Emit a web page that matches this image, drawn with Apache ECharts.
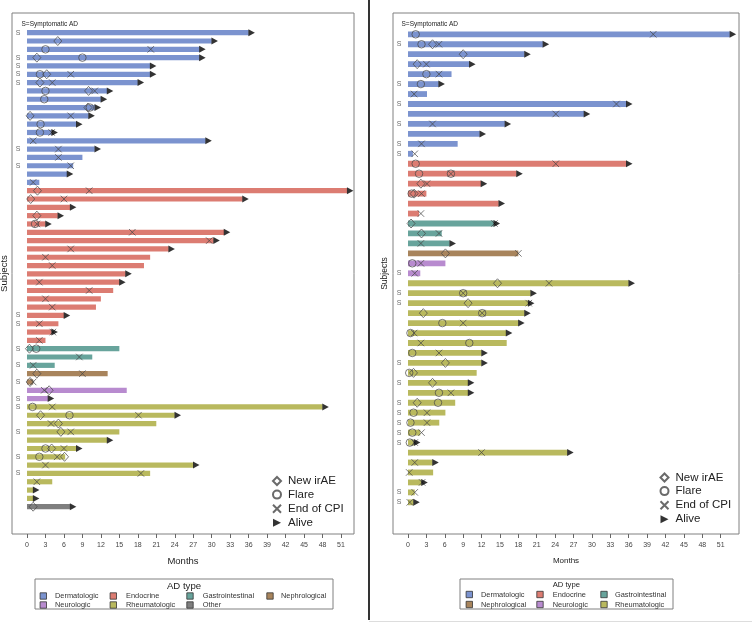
<!DOCTYPE html>
<html><head><meta charset="utf-8">
<script src="https://cdn.jsdelivr.net/npm/echarts@6/dist/echarts.min.js"></script>
<style>html,body{margin:0;padding:0;background:#fff}#c{width:752px;height:623px}</style>
</head><body><div id="c"></div><script>
const FONT = '"Liberation Sans", Arial, Helvetica, sans-serif';

// ---------- categories ----------
const adCodes = ['D','E','G','N','U','R','O'];
const adTypes = ['Dermatologic','Endocrine','Gastrointestinal','Nephrological','Neurologic','Rheumatologic','Other'];
const adColors = ['#7b93cf','#dc7c72','#68a49c','#a8845c','#b88bcf','#b9b95e','#7f7f7f'];
const markerNames = ['New irAE','Flare','End of CPI','Alive'];
const monthTicks = [0,3,6,9,12,15,18,21,24,27,30,33,36,39,42,45,48,51];

// ---------- left panel (58 subjects) ----------
const leftType = ['D','D','D','D','D','D','D','D','D','D','D','D','D','D','D','D','D','D','D',
  'E','E','E','E','E','E','E','E','E','E','E','E','E','E','E','E','E','E','E',
  'G','G','G','N','N','U','U',
  'R','R','R','R','R','R','R','R','R','R','R','R','O'];
const leftEnd = [36,30,28,28,20,20,18,13,12,11,10,8,4,29,11,9,7.5,6.5,2,
  52,35,7,5,3,32,30.3,23,20,19,16,15,14,12,11.2,6,5.1,4,3,
  15,10.6,4.5,13.1,1,16.2,3.4,
  48,24,21,15,13,8,6.2,27,20,4.1,1,1,7];
const leftAlive = [1,2,3,4,5,6,7,8,9,10,11,12,13,14,15,18,20,21,22,23,24,25,26,27,30,31,35,37,45,46,47,50,51,53,56,57,58];
const leftSympt = [1,4,5,6,7,15,17,35,36,39,41,43,45,46,49,52,54];
const leftIrAE = [[2,5],[4,1.6],[6,3.2],[7,2.1],[8,10],[10,9.9],[11,0.5],[20,1.7],[21,0.6],[23,1.6],
  [39,0.4],[42,1.6],[43,0.5],[44,3.6],[47,2.2],[48,5.1],[49,5.5],[51,4.0],[52,6.1],[58,1.0]];
const leftFlare = [[3,3],[4,9],[6,2.1],[8,3],[9,2.8],[10,10.2],[12,2.2],[13,2.1],[24,1.3],[39,1.5],
  [46,0.9],[47,6.9],[51,3],[52,2]];
const leftEndCPI = [[3,20.1],[6,7.1],[7,4.1],[8,11],[11,7.1],[13,4],[14,1],[15,5.1],[16,5.1],[17,7.1],[19,1],
  [20,10.1],[21,6],[24,1.6],[25,17.1],[26,29.6],[27,7.1],[28,3],[29,4.1],[31,2],[32,10.1],[33,3],[34,4.1],
  [36,2],[37,4.2],[38,2],[40,8.5],[41,1],[42,9],[43,1],[44,2.8],[46,4.1],[47,18.1],[48,3.9],[49,7.1],
  [51,6],[52,4.9],[53,3],[54,18.5],[55,1.6]];

// ---------- right panel (48 subjects) ----------
const rightType = ['D','D','D','D','D','D','D','D','D','D','D','D','D',
  'E','E','E','E','E','E','G','G','G','N','U','U',
  'R','R','R','R','R','R','R','R','R','R','R','R','R','R','R','R','R','R','R','R','R','R','R'];
const rightEnd = [52.5,22,19,10,7.1,5,3.1,35.6,28.7,15.8,11.7,8.1,0.8,
  35.6,17.7,11.9,3,14.8,1.8,14,5.5,6.8,18,6.1,2,
  36,20,19.6,19,18,16,16.1,12,12,11.2,9.8,9.8,7.7,6.1,5.1,2,1,26,4,4.1,2.2,1.1,0.9];
const rightAlive = [1,2,3,4,6,8,9,10,11,14,15,16,18,20,22,26,27,28,29,30,31,33,34,36,37,42,43,44,46,48];
const rightSympt = [2,6,8,10,12,13,25,27,28,34,36,38,39,40,41,42,47,48];
const rightIrAE = [[2,4],[3,9],[4,1.5],[16,2.1],[17,1],[20,0.5],[21,2.2],[23,6.1],[26,14.6],[28,9.8],
  [29,2.5],[34,6.1],[35,0.9],[36,4],[38,1.5]];
const rightFlare = [[1,1.25],[2,2.2],[5,3],[6,2.1],[14,1.25],[15,1.8],[15,7],[17,0.6],[24,0.7],[27,9],
  [29,12.1],[30,5.6],[31,0.4],[32,10],[33,0.7],[35,0.2],[37,5.05],[38,4.9],[39,0.9],[40,0.4],[41,0.7],[42,0.3]];
const rightEndCPI = [[1,40],[2,5.05],[4,3],[5,5.05],[7,1],[8,34],[9,24.1],[10,4],[12,2.2],[13,1.1],
  [14,24.1],[15,7],[16,3.1],[17,2.2],[19,2.1],[20,14.1],[21,5.05],[22,2.1],[23,18],[24,2.1],[25,1.1],
  [26,23],[27,9],[28,19.7],[29,12.1],[30,9],[31,1],[32,2.1],[33,5.05],[37,7],[39,3.1],[40,3.1],[41,2.2],
  [42,1.1],[43,12],[44,1.1],[45,0.2],[46,2.3],[47,1.1],[48,0.3]];

// ---------- build ----------
const chart = echarts.init(document.getElementById('c'), null, {renderer:'canvas'});
const X_PATH = 'path://M0,0L10,10M10,0L0,10';
const ARROW_PATH = 'path://M0,0L10,5L0,10Z';
const MK = '#454545';

function panel(idx, types, ends, alive, sympt, irae, flare, endcpi, barH) {
  const bars = ends.map((e, i) => [0, e, i + 1, adCodes.indexOf(types[i])]);
  const swap = arr => arr.map(p => [p[1], p[0]]);
  const common = {xAxisIndex: idx, yAxisIndex: idx, animation: false};
  return [
    Object.assign({
      type: 'custom', name: 'bars' + idx, data: bars, z: 2,
      encode: {x: [0, 1], y: 2},
      renderItem: (params, api) => {
        const a = api.coord([api.value(0), api.value(2)]);
        const b = api.coord([api.value(1), api.value(2)]);
        return {type: 'rect', shape: {x: a[0], y: a[1] - barH / 2, width: b[0] - a[0], height: barH},
          style: {fill: adColors[api.value(3)]}};
      }
    }, common),
    Object.assign({
      type: 'scatter', name: 'S' + idx, data: sympt.map(r => [-1.45, r]), symbolSize: 1, z: 3,
      itemStyle: {color: 'rgba(0,0,0,0)'},
      label: {show: true, position: 'inside', formatter: 'S', fontSize: 7, color: '#444', fontFamily: FONT}
    }, common),
    Object.assign({
      type: 'scatter', name: 'New irAE', data: swap(irae), symbol: 'diamond', symbolSize: [8, 9], z: 5,
      itemStyle: {color: 'rgba(0,0,0,0)', borderColor: MK, borderWidth: 0.9}
    }, common),
    Object.assign({
      type: 'scatter', name: 'Flare', data: swap(flare), symbol: 'circle', symbolSize: 7.5, z: 5,
      itemStyle: {color: 'rgba(0,0,0,0)', borderColor: MK, borderWidth: 0.9}
    }, common),
    Object.assign({
      type: 'scatter', name: 'End of CPI', data: swap(endcpi), symbol: X_PATH, symbolSize: 6.5, z: 5,
      itemStyle: {color: 'none', borderColor: MK, borderWidth: 0.9}
    }, common),
    Object.assign({
      type: 'scatter', name: 'Alive', data: alive.map(r => [ends[r - 1], r]), symbol: ARROW_PATH,
      symbolSize: [6.5, 7], symbolOffset: [3, 0], z: 6,
      itemStyle: {color: '#000'}
    }, common)
  ];
}

function xAxisCfg(idx, min, max) {
  return {
    type: 'value', gridIndex: idx, min: min, max: max, position: 'bottom',
    name: 'Months', nameLocation: 'middle', nameGap: idx === 0 ? 22 : 22.5,
    nameTextStyle: {fontSize: idx === 0 ? 9.5 : 8, color: '#222', fontFamily: FONT},
    axisLine: {show: false, onZero: false}, splitLine: {show: false},
    axisTick: {show: true, length: 4, customValues: monthTicks, lineStyle: {color: '#666', width: 1}},
    axisLabel: {show: true, customValues: monthTicks, margin: 8, fontSize: 7, color: '#444', fontFamily: FONT}
  };
}
function yAxisCfg(idx, min, max) {
  return {
    type: 'value', gridIndex: idx, min: min, max: max, inverse: true,
    name: 'Subjects', nameLocation: 'middle', nameGap: idx === 0 ? 3 : 3.6, nameRotate: 90,
    nameTextStyle: {fontSize: idx === 0 ? 9.6 : 8.5, color: '#222', fontFamily: FONT},
    axisLine: {show: false, onZero: false}, axisTick: {show: false}, axisLabel: {show: false}, splitLine: {show: false}
  };
}

function adLegend(box, title, titleSize, cols, rows, items) {
  const els = [{type: 'rect', shape: {x: box[0], y: box[1], width: box[2], height: box[3]},
    style: {fill: 'none', stroke: '#808080', lineWidth: 1}}];
  els.push({type: 'text', x: title[0], y: title[1],
    style: {text: 'AD type', fontSize: titleSize, fill: '#222', fontFamily: FONT, align: 'center', verticalAlign: 'middle'}});
  items.forEach((name, k) => {
    const ci = k % cols.length, ri = Math.floor(k / cols.length);
    const t = adTypes.indexOf(name);
    els.push({type: 'rect', shape: {x: cols[ci][0] - 3.2, y: rows[ri] - 3.2, width: 6.4, height: 6.4},
      style: {fill: adColors[t], stroke: '#333', lineWidth: 0.8}});
    els.push({type: 'text', x: cols[ci][1], y: rows[ri],
      style: {text: name, fontSize: 7.4, fill: '#333', fontFamily: FONT, verticalAlign: 'middle'}});
  });
  return els;
}

const markerLegend = (left, top) => ({
  data: [markerNames[0], markerNames[1], markerNames[2], {name: markerNames[3], icon: ARROW_PATH}],
  orient: 'vertical', left: left, top: top, itemWidth: 8, itemHeight: 8, itemGap: 1.6,
  selectedMode: false,
  textStyle: {fontSize: 11.5, color: '#222', fontFamily: FONT, padding: [0, 0, 0, 2]}
});

const gridBase = {show: true, borderColor: '#808080', borderWidth: 1, backgroundColor: 'transparent',
  containLabel: false, outerBoundsMode: 'none'};
const option = {
  animation: false,
  backgroundColor: '#fff',
  grid: [
    Object.assign({left: 12, top: 13, width: 342, height: 521}, gridBase),
    Object.assign({left: 393, top: 13, width: 346, height: 521}, gridBase)
  ],
  xAxis: [xAxisCfg(0, -2.436, 53.11), xAxisCfg(1, -2.447, 53.99)],
  yAxis: [yAxisCfg(0, -1.369, 61.283), yAxisCfg(1, -1.139, 51.18)],
  legend: [markerLegend(265.5, 470), markerLegend(653, 466.5)],
  series: [].concat(
    panel(0, leftType, leftEnd, leftAlive, leftSympt, leftIrAE, leftFlare, leftEndCPI, 5.2),
    panel(1, rightType, rightEnd, rightAlive, rightSympt, rightIrAE, rightFlare, rightEndCPI, 5.8)
  ),
  graphic: [].concat(
    [{type: 'text', x: 21.5, y: 24, style: {text: 'S=Symptomatic AD', fontSize: 6.5, fill: '#222', fontFamily: FONT, verticalAlign: 'middle'}},
     {type: 'text', x: 401.5, y: 24, style: {text: 'S=Symptomatic AD', fontSize: 6.5, fill: '#222', fontFamily: FONT, verticalAlign: 'middle'}},
     {type: 'line', shape: {x1: 369, y1: 0, x2: 369, y2: 620}, style: {stroke: '#000', lineWidth: 1.6}},
     {type: 'line', shape: {x1: 369, y1: 621.5, x2: 752, y2: 621.5}, style: {stroke: '#ddd', lineWidth: 1}}],
    adLegend([35, 579, 298, 30], [184, 586.5], 9.6,
      [[43.3, 55], [113.3, 126], [190, 202.7], [270, 281]], [596, 605],
      ['Dermatologic', 'Endocrine', 'Gastrointestinal', 'Nephrological', 'Neurologic', 'Rheumatologic', 'Other']),
    adLegend([460, 579, 213, 30], [566.3, 584.5], 7.7,
      [[469.3, 481], [540, 552.7], [604, 615]], [594.5, 604.5],
      ['Dermatologic', 'Endocrine', 'Gastrointestinal', 'Nephrological', 'Neurologic', 'Rheumatologic'])
  )
};
chart.setOption(option);
</script></body></html>
